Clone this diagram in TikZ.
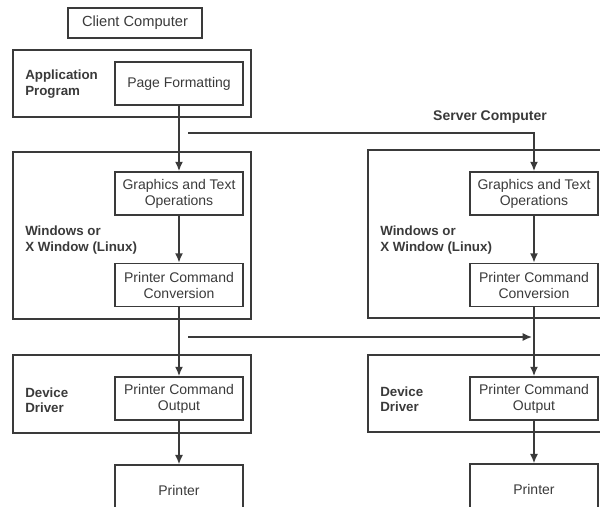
\documentclass[tikz,border=0pt]{standalone}
\usepackage{fontspec}
\setmainfont{Liberation Sans}
\usetikzlibrary{arrows.meta}
\definecolor{ln}{HTML}{3A3A3A}
\begin{document}
\begin{tikzpicture}[x=0.75pt,y=-0.75pt,
  outerbox/.style={draw=ln, line width=1.1pt, inner sep=0pt},
  innerbox/.style={draw=ln, line width=1.1pt, inner sep=0pt, minimum width=96pt, minimum height=32.5pt, align=center, text=ln, font=\fontsize{10.5}{12}\selectfont},
  lbl/.style={anchor=west, align=left, inner sep=0pt, text=ln, font=\fontsize{10}{11.5}\selectfont\bfseries},
  flow/.style={draw=ln, line width=1.1pt, -{Latex[length=7pt,width=6pt]}},
  plain/.style={draw=ln, line width=1.1pt}]
\useasboundingbox (0,0) rectangle (600,507);
\clip (0,0) rectangle (600,507);
% title
\node[draw=ln, line width=0.8pt, minimum width=100.5pt, minimum height=22.5pt, inner sep=0pt, text=ln, font=\fontsize{11}{12}\selectfont] (client) at (135,23) {Client Computer};
\node[text=ln, font=\fontsize{10.5}{12}\selectfont\bfseries, inner sep=0pt] (server) at (490,117) {Server Computer};
% left column outer boxes
\node[outerbox, minimum width=178.5pt, minimum height=50.25pt] (app) at (132,83.5) {};
\node[outerbox, minimum width=178.5pt, minimum height=125.25pt] (winL) at (132,235.5) {};
\node[outerbox, minimum width=178.5pt, minimum height=58.5pt] (ddL) at (132,394) {};
% right column outer boxes
\node[outerbox, minimum width=181.5pt, minimum height=126pt] (winR) at (489,234) {};
\node[outerbox, minimum width=181.5pt, minimum height=57.75pt] (ddR) at (489,393.5) {};
% labels
\node[lbl] (appl) at (25,84) {Application\\Program};
\node[lbl] (winLl) at (25,240) {Windows or\\X Window (Linux)};
\node[lbl] (ddLl) at (25,400) {Device\\Driver};
\node[lbl] (winRl) at (380,240) {Windows or\\X Window (Linux)};
\node[lbl] (ddRl) at (380,399) {Device\\Driver};
% left inner boxes
\node[innerbox] (page) at (179,83.5) {Page Formatting};
\node[innerbox] (gfxL) at (179,193.5) {Graphics and Text\\Operations};
\node[innerbox] (pccL) at (179,285) {Printer Command\\Conversion};
\node[innerbox] (pcoL) at (179,398.5) {Printer Command\\Output};
\node[innerbox, minimum height=37.5pt] (prnL) at (179,490) {Printer};
% right inner boxes
\node[innerbox] (gfxR) at (534,193.5) {Graphics and Text\\Operations};
\node[innerbox] (pccR) at (534,285) {Printer Command\\Conversion};
\node[innerbox] (pcoR) at (534,398.5) {Printer Command\\Output};
\node[innerbox, minimum height=37.5pt] (prnR) at (534,489) {Printer};
% left flow
\draw[flow] (page) -- (gfxL);
\draw[flow] (gfxL) -- (pccL);
\draw[flow] (pccL) -- (pcoL);
\draw[flow] (pcoL) -- (prnL);
% right flow
\draw[flow] (gfxR) -- (pccR);
\draw[flow] (pccR) -- (pcoR);
\draw[flow] (pcoR) -- (prnR);
% cross links
\coordinate (h1) at (188,133);
\coordinate (h2) at (188,337);
\draw[flow] (h1) -- (gfxR.north |- h1) -- (gfxR.north);
\draw[flow] (h2) -- ([xshift=-1.5pt]pccR.south |- h2);
\end{tikzpicture}
\end{document}
